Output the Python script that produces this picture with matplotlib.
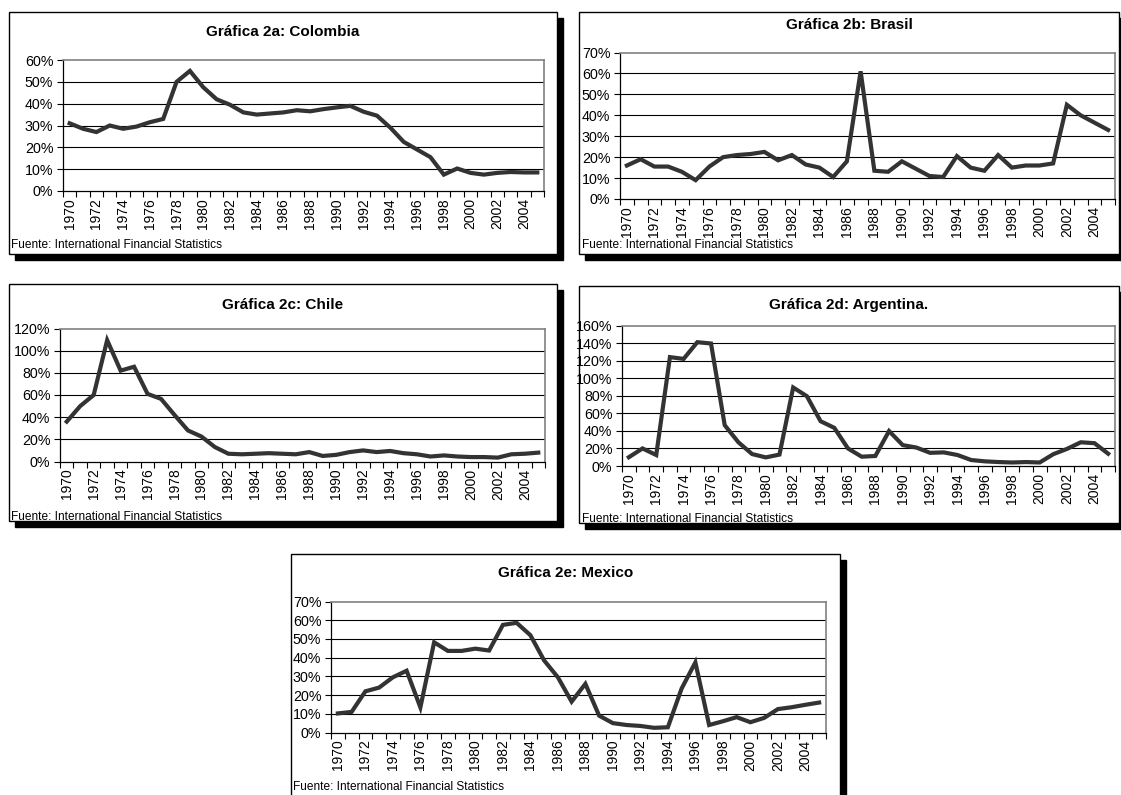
import numpy as np
import matplotlib
matplotlib.use("Agg")
import matplotlib.pyplot as plt
from matplotlib.patches import Rectangle
from matplotlib.ticker import FixedLocator, FuncFormatter

plt.rcParams["font.family"] = ["Liberation Sans", "DejaVu Sans"]

W, H = 1121, 795

years = list(range(1970, 2006))
year_labels = [str(y) for y in years[::2]]

colombia = [31, 28.5, 27, 30, 28.5, 29.5, 31.5, 33, 50, 55, 47.5, 42, 39.5, 36, 35, 35.5,
            36, 37, 36.5, 37.5, 38.3, 39, 36.3, 34.5, 29, 22.5, 19, 15.5, 7.5, 10.3, 8.3,
            7.5, 8.3, 8.7, 8.5, 8.5]
brasil = [16, 19, 15.5, 15.5, 13, 9, 15.5, 20, 21, 21.5, 22.5, 18.5, 21, 16.5, 15, 10.5,
          18, 61, 13.5, 13, 18, 14.5, 11, 10.5, 20.5, 15, 13.5, 21, 15, 16, 16, 17, 45,
          40, 36.5, 33]
chile = [36, 50, 60, 109.5, 82, 85.5, 61, 56.5, 42, 28, 22.5, 13, 7, 6.5, 7, 7.5, 7, 6.5,
         8.5, 5, 6, 8.5, 10, 8.5, 9.5, 7.5, 6.5, 4.5, 5.5, 4.5, 4, 4, 3.5, 6.5, 7, 8]
argentina = [10, 20, 12.5, 124, 122, 141, 139.5, 46.5, 27, 13.6, 9.8, 13, 89.4, 79.5, 51,
             43.5, 20, 10.6, 11.4, 39.8, 23.8, 21, 15, 15.5, 12.5, 6.8, 5.3, 4.5, 4, 4.5,
             4, 13.5, 19.5, 27, 26, 14]
mexico = [10.2, 11, 22, 24, 29.5, 33, 13.4, 48.2, 43.6, 43.6, 44.8, 43.8, 57.5, 58.6, 52,
          38.5, 29.5, 16.5, 26, 9, 5, 4, 3.5, 2.5, 2.8, 23.5, 37.5, 4, 6, 8.2, 5.5, 7.8,
          12.5, 13.5, 14.8, 16]

# (title, data, ymax, ystep, box px (l, t, r, b), axes px (l, t, r, b), title y, fuente (x, y))
panels = [
    ("Gráfica 2a: Colombia", colombia, 60, 10, (9, 12, 557, 254), (63, 60, 544, 191), 32, (11, 245)),
    ("Gráfica 2b: Brasil", brasil, 70, 10, (579, 12, 1119, 254), (620, 52.5, 1115, 199), 25, (582, 245)),
    ("Gráfica 2c: Chile", chile, 120, 20, (9, 284, 557, 521), (60, 328.5, 545, 461.5), 305, (11, 517)),
    ("Gráfica 2d: Argentina.", argentina, 160, 20, (579, 286, 1119, 523), (622, 325.5, 1115, 466), 305, (582, 519)),
    ("Gráfica 2e: Mexico", mexico, 70, 10, (291, 554, 840, 810), (331, 601.5, 826, 732.5), 573, (293, 787)),
]

fig = plt.figure(figsize=(W / 100, H / 100), dpi=100, facecolor="white")


def fx(x):
    return x / W


def fy(y):
    return 1 - y / H


x = np.arange(len(years))

for title, data, ymax, ystep, box, axpx, ty, fuente in panels:
    bl, bt, br, bb = box
    # drop shadow + framed box
    fig.add_artist(Rectangle((fx(bl + 6), fy(bb + 6)), (br - bl) / W, (bb - bt) / H,
                             transform=fig.transFigure, facecolor="black",
                             edgecolor="black", zorder=-2))
    fig.add_artist(Rectangle((fx(bl), fy(bb)), (br - bl) / W, (bb - bt) / H,
                             transform=fig.transFigure, facecolor="white",
                             edgecolor="black", linewidth=1.0, zorder=-1))

    al, at, ar, ab = axpx
    ax = fig.add_axes([fx(al), fy(ab), (ar - al) / W, (ab - at) / H])
    ax.set_facecolor("white")
    ax.plot(x, data, color="#333333", linewidth=3.0, solid_joinstyle="miter", zorder=3)

    ax.set_xlim(-0.5, len(years) - 0.5)
    ax.set_ylim(0, ymax)
    yt = np.arange(0, ymax + ystep, ystep)
    ax.set_yticks(yt)
    ax.yaxis.set_major_formatter(FuncFormatter(lambda v, p: f"{v:.0f}%"))
    for v in yt[1:-1]:
        ax.axhline(v, color="black", linewidth=0.8, zorder=1)

    ax.xaxis.set_major_locator(FixedLocator(np.arange(-0.5, len(years), 1)))
    ax.xaxis.set_minor_locator(FixedLocator(x[::2]))
    ax.set_xticklabels([], minor=False)
    ax.set_xticklabels(year_labels, minor=True, rotation=90)
    ax.tick_params(axis="x", which="major", length=4, width=0.8, direction="out")
    ax.tick_params(axis="x", which="minor", length=0, pad=5, labelsize=10)
    ax.tick_params(axis="y", which="major", length=4, width=0.8, direction="out",
                   labelsize=10.3, pad=3)

    for s in ("top", "right"):
        ax.spines[s].set_color("#808080")
        ax.spines[s].set_linewidth(1.2)
    for s in ("left", "bottom"):
        ax.spines[s].set_color("black")
        ax.spines[s].set_linewidth(0.9)

    fig.text(fx((bl + br) / 2), fy(ty), title, ha="center", va="center",
             fontsize=11, fontweight="bold")
    fig.text(fx(fuente[0]), fy(fuente[1]), "Fuente: International Financial Statistics",
             ha="left", va="center", fontsize=8.6)

fig.savefig("out.png", dpi=100, facecolor="white")
